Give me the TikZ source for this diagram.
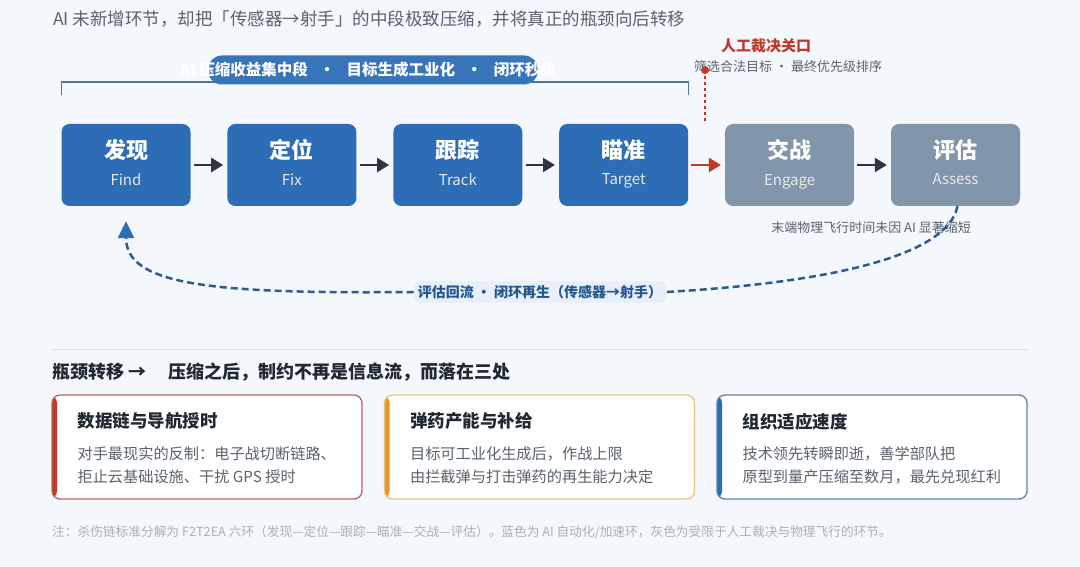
\documentclass[tikz,border=0pt]{standalone}
\usepackage{fontspec}
\setmainfont{Noto Sans CJK SC}
\usetikzlibrary{positioning,arrows.meta}

\definecolor{bgc}{HTML}{F4F7FB}
\definecolor{aiblue}{HTML}{2C6DB5}
\definecolor{mangrey}{HTML}{8195AB}
\definecolor{arrowdark}{HTML}{2B3544}
\definecolor{gatered}{HTML}{C0392B}
\definecolor{inkgrey}{HTML}{59626D}
\definecolor{inkdark}{HTML}{1F2933}
\definecolor{loopblue}{HTML}{2F5B8A}
\definecolor{loopfill}{HTML}{E8EFF8}
\definecolor{rulegrey}{HTML}{DCE2EA}
\definecolor{accorange}{HTML}{E0982B}
\definecolor{redline}{HTML}{B7675F}
\definecolor{orangeline}{HTML}{EBC27E}
\definecolor{blueline}{HTML}{5F82AA}

\newcommand\stagelabel[2]{{\bfseries\fontsize{22}{26}\selectfont\strut #1}\\[5pt]{\fontsize{15}{18}\selectfont\color{white!82!gray}\strut #2}}
\newcommand\midsep{\hspace{0.75em}·\hspace{0.75em}}

\begin{document}
\begin{tikzpicture}[x=1pt,y=-1pt,
  stage/.style={rectangle,rounded corners=8pt,minimum width=129pt,minimum height=82pt,inner sep=0pt,align=center,text=white},
  aistage/.style={stage,fill=aiblue},
  manstage/.style={stage,fill=mangrey},
  flow/.style={-{Triangle[length=12pt,width=14pt]},line width=2.5pt,draw=arrowdark,shorten <=3pt,shorten >=4pt},
  bracket/.style={draw=loopblue!85,line width=1.6pt},
  note/.style={font=\fontsize{13}{15}\selectfont,text=inkgrey,inner sep=0pt},
  loopline/.style={draw=loopblue,line width=2.5pt,dash pattern=on 7pt off 4pt},
  cardbox/.style 2 args={rectangle,rounded corners=8pt,minimum width=310pt,minimum height=104pt,fill=white,draw=#1,line width=1.3pt,
    path picture={\fill[#2] (path picture bounding box.north west) rectangle ([xshift=5pt]path picture bounding box.south west);}},
  cardtitle/.style={anchor=west,inner sep=0pt,font=\bfseries\fontsize{17.5}{21}\selectfont,text=inkdark},
  cardbody/.style={anchor=north west,inner sep=0pt,align=left,font=\fontsize{15.2}{23}\selectfont,text=inkgrey}]

\fill[bgc] (0,0) rectangle (1080,567);
\useasboundingbox (0,0) rectangle (1080,567);

\node[anchor=west,inner sep=0pt,font=\fontsize{17.5}{21}\selectfont,text=inkgrey] (headline) at (53,19)
  {AI 未新增环节，却把「传感器→射手」的中段极致压缩，并将真正的瓶颈向后转移};

% six stages of the chain
\node[aistage] (find) at (126,165) {\stagelabel{发现}{Find}};
\node[aistage,right=36.5pt of find] (fix) {\stagelabel{定位}{Fix}};
\node[aistage,right=36.5pt of fix] (track) {\stagelabel{跟踪}{Track}};
\node[aistage,right=36.5pt of track] (target) {\stagelabel{瞄准}{Target}};
\node[manstage,right=36.5pt of target] (engage) {\stagelabel{交战}{Engage}};
\node[manstage,right=36.5pt of engage] (assess) {\stagelabel{评估}{Assess}};

\draw[flow] (find) -- (fix);
\draw[flow] (fix) -- (track);
\draw[flow] (track) -- (target);
\draw[flow,draw=gatered] (target) -- (engage);
\draw[flow] (engage) -- (assess);

% bracket over the AI stages
\draw[bracket] ([yshift=29pt]find.north west) -- ++(0,-13) -| ([yshift=29pt]target.north east);
\node[rectangle,rounded corners=14pt,fill=aiblue!95!white,minimum width=330pt,minimum height=29pt] (gain) at (373,70) {};
\node[text=white,inner sep=0pt,font=\bfseries\fontsize{15.5}{18}\selectfont] (gaintext) at (368,70)
  {AI 压缩收益集中段\midsep 目标生成工业化\midsep 闭环秒级};

% human gate
\coordinate (gate) at (705,70);
\coordinate (gatefoot) at (705,122);
\draw[gatered,line width=1.3pt,dash pattern=on 3pt off 3pt] (gate) -- (gatefoot);
\node[inner sep=0pt,font=\bfseries\fontsize{15}{18}\selectfont,text=gatered] (gatetitle) at (766,46) {人工裁决关口};
\node[note,anchor=west] (gatenote) at (694,67) {筛选合法目标 · 最终优先级排序};
\fill[gatered] (gate) circle (4pt);

\node[note,anchor=east] (flight) at (971,228) {末端物理飞行时间未因 AI 显著缩短};

% feedback loop
\node[rectangle,rounded corners=6pt,fill=loopfill,inner sep=4pt,font=\bfseries\fontsize{14}{17}\selectfont,text=aiblue!80!black] (back) at (540,292)
  {评估回流 · 闭环再生（传感器→射手）};
\draw[loopline] ([xshift=2pt]assess.south) .. controls (945,268) and (770,286) .. (back.east);
\draw[loopline,-{Triangle[length=17pt,width=16pt,color=aiblue]}] (back.west) .. controls (210,294) and (126,285) .. ([yshift=-15pt]find.south);

% bottleneck shift
\coordinate (ruleleft) at (52,349);
\coordinate (ruleright) at (1028,349);
\draw[rulegrey,line width=1pt] (ruleleft) -- (ruleright);
\node[anchor=west,inner sep=0pt,font=\bfseries\fontsize{18}{21}\selectfont,text=inkdark] (shift) at (52,372)
  {瓶颈转移 →\hspace{22pt}压缩之后，制约不再是信息流，而落在三处};

\node[cardbox={redline}{gatered}] (datalink) at (207,447) {};
\node[cardbox={orangeline}{accorange}] (munition) at (539.5,447) {};
\node[cardbox={blueline}{aiblue}] (adapt) at (872,447) {};

\node[cardtitle] (datalinkt) at ([xshift=26pt,yshift=-27pt]datalink.north west) {数据链与导航授时};
\node[cardbody] (datalinkb) at ([xshift=26pt,yshift=-52pt]datalink.north west) {对手最现实的反制：电子战切断链路、\\拒止云基础设施、干扰 GPS 授时};
\node[cardtitle] (munitiont) at ([xshift=26pt,yshift=-27pt]munition.north west) {弹药产能与补给};
\node[cardbody] (munitionb) at ([xshift=26pt,yshift=-52pt]munition.north west) {目标可工业化生成后，作战上限\\由拦截弹与打击弹药的再生能力决定};
\node[cardtitle] (adaptt) at ([xshift=26pt,yshift=-27pt]adapt.north west) {组织适应速度};
\node[cardbody] (adaptb) at ([xshift=26pt,yshift=-52pt]adapt.north west) {技术领先转瞬即逝，善学部队把\\原型到量产压缩至数月，最先兑现红利};

\node[anchor=west,inner sep=0pt,font=\fontsize{12.7}{15}\selectfont,text=inkgrey!50] (footnote) at (52,532)
  {注：杀伤链标准分解为 F2T2EA 六环（发现—定位—跟踪—瞄准—交战—评估）。蓝色为 AI 自动化/加速环，灰色为受限于人工裁决与物理飞行的环节。};
\end{tikzpicture}
\end{document}
